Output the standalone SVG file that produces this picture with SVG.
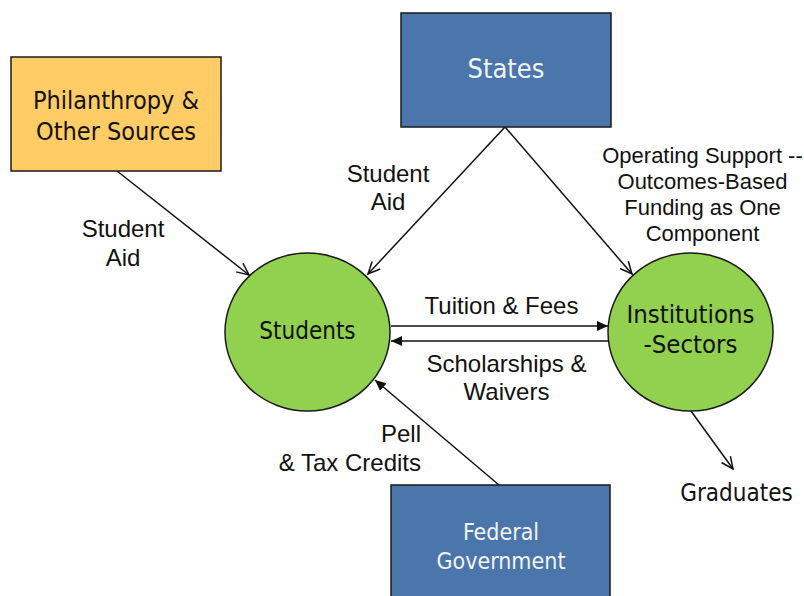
<svg xmlns="http://www.w3.org/2000/svg" width="804" height="596" viewBox="0 0 804 596">
<defs>
<style>
.box{stroke:#1a1a1a;stroke-width:1.5}
.circ{fill:#92D050;stroke:#1a1a1a;stroke-width:1.5}
.node{font-family:"DejaVu Sans Condensed","DejaVu Sans",sans-serif;font-stretch:condensed;text-anchor:middle}
.lbl{font-family:"Liberation Sans",Arial,sans-serif;font-size:24px;fill:#111;text-anchor:middle}
.conn{stroke:#111;stroke-width:1.5;fill:none}
</style>
<marker id="open" viewBox="0 0 14 14" refX="13" refY="7" markerWidth="14" markerHeight="14" markerUnits="userSpaceOnUse" orient="auto">
<path d="M1,1.5 L13,7 L1,12.5" fill="none" stroke="#111" stroke-width="1.5"/>
</marker>
<marker id="solid" viewBox="0 0 12 12" refX="11" refY="6" markerWidth="12" markerHeight="12" markerUnits="userSpaceOnUse" orient="auto">
<path d="M0,1 L11,6 L0,11 Z" fill="#111"/>
</marker>
</defs>
<g id="connectors">
<line class="conn" x1="117" y1="171" x2="249" y2="275" marker-end="url(#open)"/>
<line class="conn" x1="505" y1="127" x2="368" y2="274" marker-end="url(#open)"/>
<line class="conn" x1="505" y1="127" x2="632" y2="274" marker-end="url(#open)"/>
<line class="conn" x1="391" y1="326" x2="608" y2="326" marker-end="url(#solid)"/>
<line class="conn" x1="608" y1="341" x2="391" y2="341" marker-end="url(#solid)"/>
<line class="conn" x1="499" y1="485" x2="375" y2="380" marker-end="url(#solid)"/>
<line class="conn" x1="691" y1="411" x2="733" y2="469" marker-end="url(#open)"/>
<text class="lbl" x="123" y="237">Student</text>
<text class="lbl" x="123" y="266">Aid</text>
<text class="lbl" x="388" y="182">Student</text>
<text class="lbl" x="388" y="210">Aid</text>
<g style="font-size:22px">
<text class="lbl" x="702.5" y="163" style="font-size:22px">Operating Support --</text>
<text class="lbl" x="702.5" y="189" style="font-size:22px">Outcomes-Based</text>
<text class="lbl" x="702.5" y="215" style="font-size:22px">Funding as One</text>
<text class="lbl" x="702.5" y="241" style="font-size:22px">Component</text>
</g>
<text class="lbl" x="501.5" y="314">Tuition &amp; Fees</text>
<text class="lbl" x="506.5" y="372">Scholarships &amp;</text>
<text class="lbl" x="506.5" y="400">Waivers</text>
<text class="lbl" x="421" y="442" style="text-anchor:end">Pell</text>
<text class="lbl" x="421" y="471" style="text-anchor:end">&amp; Tax Credits</text>
</g>
<g id="philanthropy">
<rect class="box" x="11" y="57" width="210" height="114" fill="#FFCC66"/>
<text class="node" x="116" y="109" font-size="25" fill="#111">Philanthropy &amp;</text>
<text class="node" x="116" y="140" font-size="25" fill="#111">Other Sources</text>
</g>
<g id="states">
<rect class="box" x="401" y="13" width="210" height="114" fill="#4A76AB"/>
<text class="node" x="506" y="78" font-size="27" fill="#F4F4F4">States</text>
</g>
<g id="students">
<ellipse class="circ" cx="307.5" cy="332" rx="82.5" ry="79"/>
<text class="node" x="307.5" y="339" font-size="24" fill="#111">Students</text>
</g>
<g id="institutions">
<ellipse class="circ" cx="690.5" cy="332" rx="82.5" ry="79"/>
<text class="node" x="690.5" y="323" font-size="25.5" fill="#111">Institutions</text>
<text class="node" x="690.5" y="353" font-size="25.5" fill="#111">-Sectors</text>
</g>
<g id="federal">
<rect class="box" x="391" y="485" width="219" height="120" fill="#4A76AB"/>
<text class="node" x="501" y="540" font-size="23" fill="#F4F4F4">Federal</text>
<text class="node" x="501" y="569" font-size="23" fill="#F4F4F4">Government</text>
</g>
<g id="graduates">
<text class="node" x="736.5" y="501" font-size="24" fill="#111">Graduates</text>
</g>
</svg>
